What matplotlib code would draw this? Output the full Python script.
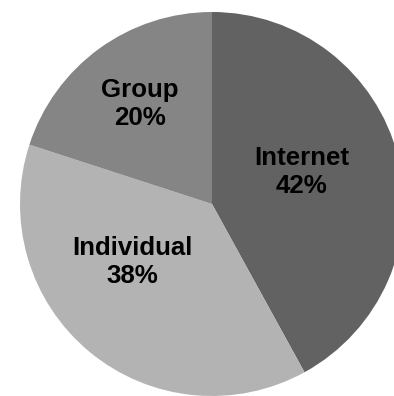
import matplotlib
matplotlib.use("Agg")
import matplotlib.pyplot as plt

categories = ["Internet", "Individual", "Group"]
values = [42, 38, 20]
colors = ["#626262", "#b3b3b3", "#858585"]

W, H = 394, 396
fig = plt.figure(figsize=(W / 100, H / 100), dpi=100)
ax = fig.add_axes([0, 0, 1, 1])

cx, cy, r = 212, H - 204, 192
ax.pie(values, colors=colors, startangle=90, counterclock=False,
       center=(cx, cy), radius=r, frame=True,
       wedgeprops=dict(linewidth=0, antialiased=True))
ax.set_xlim(0, W)
ax.set_ylim(0, H)
ax.set_aspect("equal")
ax.axis("off")

label_pos = {"Internet": (302, H - 193), "Individual": (132, H - 283), "Group": (140, H - 125)}
for cat, v in zip(categories, values):
    x, y = label_pos[cat]
    ax.text(x, y, f"{cat}\n{v}%", ha="center", va="baseline", multialignment="center",
            fontsize=18.6, fontweight="bold", family="Liberation Sans", color="#000000",
            linespacing=1.2)

fig.savefig("out.png", dpi=100)
